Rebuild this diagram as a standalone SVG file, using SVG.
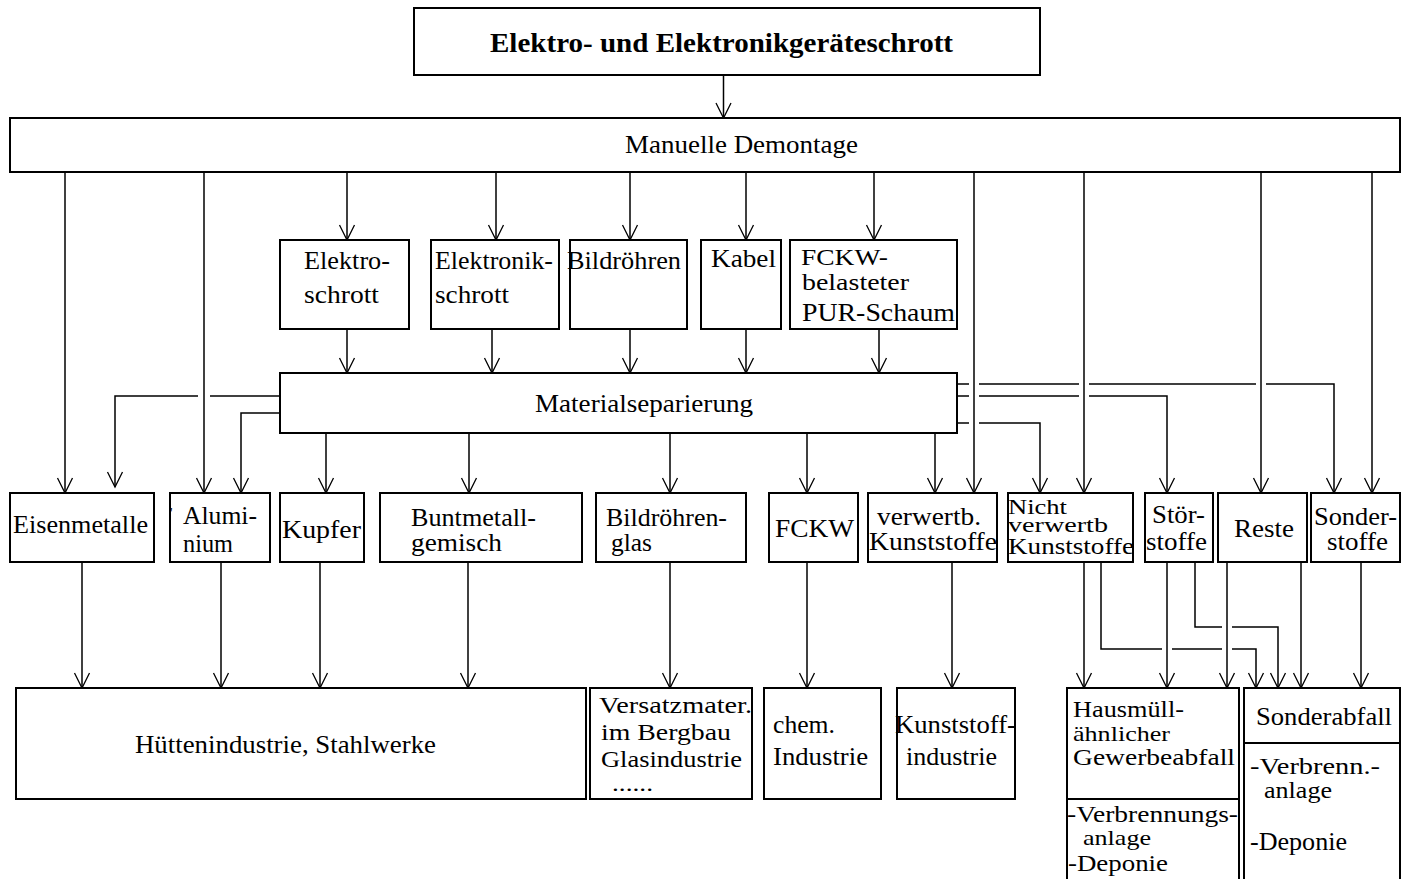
<svg xmlns="http://www.w3.org/2000/svg" width="1410" height="879" viewBox="0 0 1410 879">
<style>
.box{fill:#fff;stroke:#000;stroke-width:2}
.div{stroke:#000;stroke-width:2;fill:none}
.c{fill:none;stroke:#000;stroke-width:1.5}
.a{marker-end:url(#ah)}
text{font-family:"Liberation Serif","Times New Roman",serif;font-size:25px;fill:#000}
.t{font-weight:bold;font-size:27px}
.s{font-size:20px}
.m{font-size:23px}
.n{font-size:22px}
</style>
<defs>
<marker id="ah" markerUnits="userSpaceOnUse" markerWidth="18" markerHeight="18" viewBox="-16 -9 18 18" refX="0" refY="0" orient="auto">
<path d="M-15,-7.5 L0,0 L-15,7.5" fill="none" stroke="#000" stroke-width="1.3"/>
</marker>
</defs>
<rect width="1410" height="879" fill="#fff"/>
<g id="connectors">
<path class="c a" d="M723.5,75 V118"/>
<path class="c a" d="M65,172 V493"/>
<path class="c a" d="M204,172 V493"/>
<path class="c a" d="M347,172 V240"/>
<path class="c a" d="M496,172 V240"/>
<path class="c a" d="M630,172 V240"/>
<path class="c a" d="M746,172 V240"/>
<path class="c a" d="M874,172 V240"/>
<path class="c a" d="M974,172 V493"/>
<path class="c a" d="M1084,172 V493"/>
<path class="c a" d="M1261,172 V493"/>
<path class="c a" d="M1372,172 V493"/>
<path class="c a" d="M347,329 V373"/>
<path class="c a" d="M492,329 V373"/>
<path class="c a" d="M630,329 V373"/>
<path class="c a" d="M746,329 V373"/>
<path class="c a" d="M879,329 V373"/>
<path class="c" d="M280,396 H210"/>
<path class="c a" d="M198,396 H115 V487"/>
<path class="c a" d="M280,413 H241 V493"/>
<path class="c a" d="M326,433 V493"/>
<path class="c a" d="M469,433 V493"/>
<path class="c a" d="M670,433 V493"/>
<path class="c a" d="M807,433 V493"/>
<path class="c a" d="M935,433 V493"/>
<path class="c" d="M957,384 H969 M979,384 H1079 M1089,384 H1256"/>
<path class="c a" d="M1266,384 H1334 V493"/>
<path class="c" d="M957,396 H969 M979,396 H1079"/>
<path class="c a" d="M1089,396 H1167 V493"/>
<path class="c" d="M957,423 H969"/>
<path class="c a" d="M979,423 H1040 V493"/>
<path class="c a" d="M82,562 V688"/>
<path class="c a" d="M221,562 V688"/>
<path class="c a" d="M320,562 V688"/>
<path class="c a" d="M468,562 V688"/>
<path class="c a" d="M670,562 V688"/>
<path class="c a" d="M807,562 V688"/>
<path class="c a" d="M952,562 V688"/>
<path class="c a" d="M1084,562 V688"/>
<path class="c" d="M1101,562 V649 H1162 M1172,649 H1222"/>
<path class="c a" d="M1232,649 H1256 V688"/>
<path class="c a" d="M1167,562 V688"/>
<path class="c" d="M1195,562 V627 H1222"/>
<path class="c a" d="M1232,627 H1278 V688"/>
<path class="c a" d="M1227,562 V688"/>
<path class="c a" d="M1301,562 V688"/>
<path class="c a" d="M1361,562 V688"/>
</g>
<g id="title"><rect class="box" x="414" y="8" width="626" height="67"/><text class="t" x="490" y="52" textLength="463" lengthAdjust="spacingAndGlyphs">Elektro- und Elektronikgeräteschrott</text></g>
<g id="demontage"><rect class="box" x="10" y="118" width="1390" height="54"/><text x="625" y="153" textLength="233" lengthAdjust="spacingAndGlyphs">Manuelle Demontage</text></g>
<g id="elektroschrott"><rect class="box" x="280" y="240" width="129" height="89"/><text x="304" y="269" textLength="86" lengthAdjust="spacingAndGlyphs">Elektro-</text><text x="304" y="303" textLength="75" lengthAdjust="spacingAndGlyphs">schrott</text></g>
<g id="elektronikschrott"><rect class="box" x="431" y="240" width="128" height="89"/><text x="435" y="269" textLength="118" lengthAdjust="spacingAndGlyphs">Elektronik-</text><text x="435" y="303" textLength="74" lengthAdjust="spacingAndGlyphs">schrott</text></g>
<g id="bildroehren"><rect class="box" x="570" y="240" width="117" height="89"/><text x="567" y="269" textLength="114" lengthAdjust="spacingAndGlyphs">Bildröhren</text></g>
<g id="kabel"><rect class="box" x="701" y="240" width="80" height="89"/><text x="711" y="267" textLength="65" lengthAdjust="spacingAndGlyphs">Kabel</text></g>
<g id="fckw-pur"><rect class="box" x="790" y="240" width="167" height="89"/><text class="m" x="801" y="265" textLength="87" lengthAdjust="spacingAndGlyphs">FCKW-</text><text class="m" x="802" y="290" textLength="107" lengthAdjust="spacingAndGlyphs">belasteter</text><text x="802" y="321" textLength="153" lengthAdjust="spacingAndGlyphs">PUR-Schaum</text></g>
<g id="materialseparierung"><rect class="box" x="280" y="373" width="677" height="60"/><text x="535" y="412" textLength="218" lengthAdjust="spacingAndGlyphs">Materialseparierung</text></g>
<g id="eisenmetalle"><rect class="box" x="10" y="493" width="144" height="69"/><text x="13" y="533" textLength="135" lengthAdjust="spacingAndGlyphs">Eisenmetalle</text></g>
<g id="aluminium"><rect class="box" x="170" y="493" width="100" height="69"/><text x="170" y="518" style="font-size:14px">'</text><text x="183" y="524" textLength="74" lengthAdjust="spacingAndGlyphs">Alumi-</text><text x="183" y="552" textLength="50" lengthAdjust="spacingAndGlyphs">nium</text></g>
<g id="kupfer"><rect class="box" x="280" y="493" width="84" height="69"/><text x="282" y="538" textLength="79" lengthAdjust="spacingAndGlyphs">Kupfer</text></g>
<g id="buntmetallgemisch"><rect class="box" x="380" y="493" width="202" height="69"/><text x="411" y="526" textLength="125" lengthAdjust="spacingAndGlyphs">Buntmetall-</text><text x="411" y="551" textLength="91" lengthAdjust="spacingAndGlyphs">gemisch</text></g>
<g id="bildroehrenglas"><rect class="box" x="596" y="493" width="150" height="69"/><text x="606" y="526" textLength="121" lengthAdjust="spacingAndGlyphs">Bildröhren-</text><text x="611" y="551" textLength="41" lengthAdjust="spacingAndGlyphs">glas</text></g>
<g id="fckw"><rect class="box" x="769" y="493" width="89" height="69"/><text x="775" y="537" textLength="79" lengthAdjust="spacingAndGlyphs">FCKW</text></g>
<g id="verwertb-kunststoffe"><rect class="box" x="868" y="493" width="129" height="69"/><text x="877" y="525" textLength="104" lengthAdjust="spacingAndGlyphs">verwertb.</text><text x="869" y="550" textLength="128" lengthAdjust="spacingAndGlyphs">Kunststoffe</text></g>
<g id="nicht-verwertb-kunststoffe"><rect class="box" x="1008" y="493" width="125" height="69"/><text class="s" x="1008" y="514" textLength="59" lengthAdjust="spacingAndGlyphs">Nicht</text><text class="s" x="1008" y="532" textLength="100" lengthAdjust="spacingAndGlyphs">verwertb</text><text class="m" x="1008" y="554" textLength="126" lengthAdjust="spacingAndGlyphs">Kunststoffe</text></g>
<g id="stoerstoffe"><rect class="box" x="1145" y="493" width="68" height="69"/><text x="1152" y="523" textLength="53" lengthAdjust="spacingAndGlyphs">Stör-</text><text x="1146" y="550" textLength="61" lengthAdjust="spacingAndGlyphs">stoffe</text></g>
<g id="reste"><rect class="box" x="1218" y="493" width="89" height="69"/><text x="1234" y="537" textLength="60" lengthAdjust="spacingAndGlyphs">Reste</text></g>
<g id="sonderstoffe"><rect class="box" x="1311" y="493" width="89" height="69"/><text x="1314" y="525" textLength="83" lengthAdjust="spacingAndGlyphs">Sonder-</text><text x="1327" y="550" textLength="61" lengthAdjust="spacingAndGlyphs">stoffe</text></g>
<g id="huettenindustrie"><rect class="box" x="16" y="688" width="570" height="111"/><text x="135" y="753" textLength="301" lengthAdjust="spacingAndGlyphs">Hüttenindustrie, Stahlwerke</text></g>
<g id="versatzmaterial"><rect class="box" x="590" y="688" width="162" height="111"/><text class="m" x="599" y="713" textLength="153" lengthAdjust="spacingAndGlyphs">Versatzmater.</text><text class="m" x="601" y="740" textLength="130" lengthAdjust="spacingAndGlyphs">im Bergbau</text><text class="m" x="601" y="767" textLength="141" lengthAdjust="spacingAndGlyphs">Glasindustrie</text><text class="s" x="612" y="791" textLength="41" lengthAdjust="spacingAndGlyphs">......</text></g>
<g id="chem-industrie"><rect class="box" x="764" y="688" width="117" height="111"/><text x="773" y="733" textLength="62" lengthAdjust="spacingAndGlyphs">chem.</text><text x="773" y="765" textLength="95" lengthAdjust="spacingAndGlyphs">Industrie</text></g>
<g id="kunststoffindustrie"><rect class="box" x="897" y="688" width="118" height="111"/><text x="895" y="733" textLength="121" lengthAdjust="spacingAndGlyphs">Kunststoff-</text><text x="906" y="765" textLength="91" lengthAdjust="spacingAndGlyphs">industrie</text></g>
<g id="hausmuell"><rect class="box" x="1067" y="688" width="172" height="202"/><path class="div" d="M1067,799 H1239"/><text class="m" x="1073" y="717" textLength="111" lengthAdjust="spacingAndGlyphs">Hausmüll-</text><text class="n" x="1073" y="741" textLength="97" lengthAdjust="spacingAndGlyphs">ähnlicher</text><text class="m" x="1073" y="765" textLength="162" lengthAdjust="spacingAndGlyphs">Gewerbeabfall</text><text class="m" x="1067" y="822" textLength="171" lengthAdjust="spacingAndGlyphs">-Verbrennungs-</text><text class="n" x="1083" y="845" textLength="68" lengthAdjust="spacingAndGlyphs">anlage</text><text class="m" x="1068" y="871" textLength="100" lengthAdjust="spacingAndGlyphs">-Deponie</text></g>
<g id="sonderabfall"><rect class="box" x="1244" y="688" width="156" height="202"/><path class="div" d="M1244,743 H1400"/><text x="1256" y="725" textLength="136" lengthAdjust="spacingAndGlyphs">Sonderabfall</text><text class="m" x="1250" y="774" textLength="130" lengthAdjust="spacingAndGlyphs">-Verbrenn.-</text><text class="m" x="1264" y="798" textLength="68" lengthAdjust="spacingAndGlyphs">anlage</text><text x="1250" y="850" textLength="97" lengthAdjust="spacingAndGlyphs">-Deponie</text></g>
</svg>
